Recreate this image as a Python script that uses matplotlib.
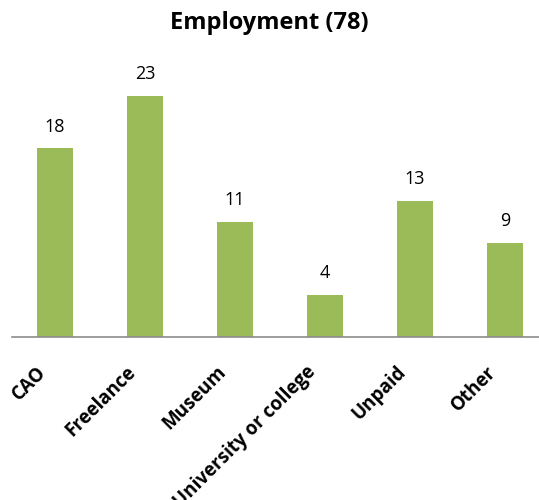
import matplotlib.pyplot as plt
import matplotlib.transforms as mtransforms

plt.rcParams['font.family'] = ['Open Sans', 'DejaVu Sans']

categories = ['CAO', 'Freelance', 'Museum', 'University or college', 'Unpaid', 'Other']
counts = [18, 23, 11, 4, 13, 9]

fig = plt.figure(figsize=(5.39, 5.0), dpi=100)
ax = fig.add_axes([12 / 539, 163 / 500, 1 - 12 / 539, 277 / 500])

x = list(range(len(categories)))
ax.bar(x, counts, width=0.4, color='#9BBB59')

for i, v in enumerate(counts):
    ax.text(i, v + 1.2, str(v), ha='center', va='bottom', fontsize=13, color='#000000')

ax.set_xlim(-0.478, 5.378)
ax.set_ylim(0, 26.4)
ax.set_xticks(x)
ax.set_xticklabels(categories, rotation=45, ha='right', rotation_mode='anchor',
                   fontsize=13.5, fontweight='bold')
ax.tick_params(axis='x', length=0, pad=18)
# excel puts the end of the label a little left of the bar centre
shift = mtransforms.ScaledTranslation(-19 / 100, 0, fig.dpi_scale_trans)
for lab in ax.get_xticklabels():
    lab.set_transform(lab.get_transform() + shift)
ax.set_yticks([])
for s in ['top', 'right', 'left']:
    ax.spines[s].set_visible(False)
ax.spines['bottom'].set_color('#8C8C8C')
ax.spines['bottom'].set_linewidth(1.2)

fig.text(0.5, 1 - 23 / 500, 'Employment (78)', ha='center', va='center',
         fontsize=17, fontweight='bold')

fig.savefig('out.png', dpi=100)
